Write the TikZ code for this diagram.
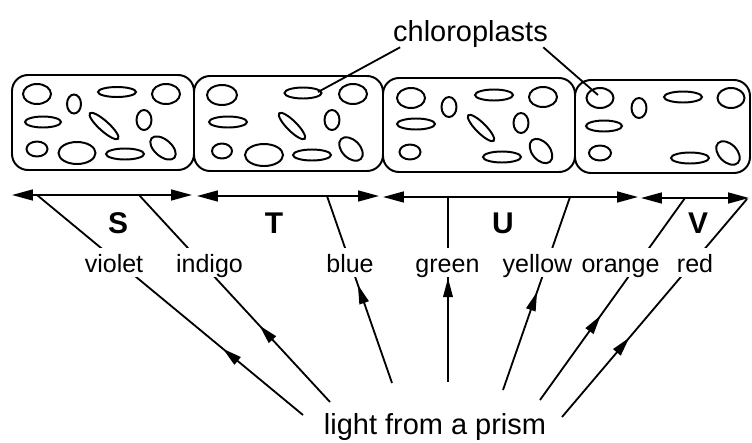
\documentclass[tikz,border=0pt]{standalone}
\usepackage{fontspec}
\setmainfont{Liberation Sans}
\usetikzlibrary{arrows.meta,decorations.markings}
\tikzset{>={Triangle[length=0.52cm,width=0.27cm]}}

\begin{document}
\begin{tikzpicture}[x=0.025cm,y=-0.025cm,
        cell/.style={line width=1.4pt,rounded corners=0.4cm},
        plast/.style={line width=1.4pt},
        band/.style={<->,line width=1.3pt},
        ray/.style={line width=1.3pt,postaction={decorate},
            decoration={markings,mark=at position 2.6cm with {\arrow{Triangle[length=0.48cm,width=0.24cm]}}}},
        lbl/.style={fill=white,anchor=base,inner xsep=1pt,inner ysep=0pt,
            text height=17pt,text depth=3.8pt,font=\fontsize{17.8}{20}\selectfont},
        big/.style={anchor=base,inner sep=0pt,font=\fontsize{20.6}{24}\selectfont},
        letter/.style={anchor=base,font=\fontsize{21.3}{24}\selectfont\bfseries}]
        \useasboundingbox (0,0) rectangle (752,442);

        % the four cells
        \draw[cell] (12,75) rectangle (194,170);
        \draw[cell] (194,76) rectangle (383,171);
        \draw[cell] (383,78) rectangle (575,172);
        \draw[cell] (575,80) rectangle (750,173);

        % chloroplasts: x/y/x radius/y radius/angle
        \foreach \x/\y/\a/\b/\r in {37/94/14/10/0, 74/104/7/9.5/0, 117/92/19/5/0, 166/94/14/10/0,
                43/122/18/5.5/0, 104/126/19/5/-42, 144/120/7.5/10/0, 37/149/10.5/7.5/0,
                77/153/18.5/11/0, 125/154/19/5.5/0, 163/148/15/8.5/-40,
                222/95/15/10/0, 303/93/18.5/5.5/0, 353/94/14/10/0, 228/122/19/5.5/0,
                292/126/18/5/-45, 332/120/7.5/10/0, 222/151/10/7.5/0, 264/155/19/11/0,
                312/155/19/5.5/0, 351/149/14/9/-45,
                411/98/14/10/0, 449/107/7.5/10/0, 494/95/19/5.5/0, 543/97/14/10/0,
                416/124/19/5.5/0, 481/128/18/5/-45, 521/123/7.5/10/0, 410/152/10.5/7.5/0,
                502/157/19/5.5/0, 541/151/14/9/-50,
                600/98/13.5/10/0, 639/108/7.5/10/0, 683/97/19/5.5/0, 731/98/13.5/10/0,
                604/126/18/5.5/0, 600/153/11/7.5/0, 690/158/19/5.5/0, 728/153/14/9/-45}
            \draw[plast,rotate around={\r:(\x,\y)}] (\x,\y) ellipse [x radius=\a, y radius=\b];

        \node[big] (chloro) at (470.5,41) {chloroplasts};
        \coordinate (plast-t) at (318,92);
        \coordinate (plast-v) at (598,95);
        \draw[line width=1.3pt] ([xshift=0.18cm]chloro.south west) -- (plast-t);
        \draw[line width=1.3pt] ([xshift=-0.12cm]chloro.south east) -- (plast-v);

        % bands S T U V
        \coordinate (s0) at (12,195);  \coordinate (s1) at (192,195);
        \coordinate (t0) at (197,196); \coordinate (t1) at (379,196);
        \coordinate (u0) at (383,197); \coordinate (u1) at (638,197);
        \coordinate (v0) at (641,198); \coordinate (v1) at (749,198);
        \draw[band] (s0) -- (s1);
        \draw[band] (t0) -- (t1);
        \draw[band] (u0) -- (u1);
        \draw[band] (v0) -- (v1);
        \node[letter] (S) at (118,233.5) {S};
        \node[letter] (T) at (274,233.5) {T};
        \node[letter] (U) at (503,233.5) {U};
        \node[letter] (V) at (698,233.5) {V};

        % light rays
        \node[big] (prism) at (435,434) {light from a prism};
        \coordinate (src-violet) at (303,415);  \coordinate (hit-violet) at (37,195);
        \coordinate (src-indigo) at (330,402);  \coordinate (hit-indigo) at (139,195);
        \coordinate (src-blue) at (392,383);    \coordinate (hit-blue) at (327,196);
        \coordinate (src-green) at (448,382);   \coordinate (hit-green) at (448,196);
        \coordinate (src-yellow) at (503,390);  \coordinate (hit-yellow) at (570,197);
        \coordinate (src-orange) at (540,400);  \coordinate (hit-orange) at (685,198);
        \coordinate (src-red) at (562,417);     \coordinate (hit-red) at (747,199);
        \foreach \c in {violet,indigo,blue,green,yellow,orange,red}
            \draw[ray] (src-\c) -- (hit-\c);

        \node[lbl] (lbl-violet) at (114,272) {violet};
        \node[lbl] (lbl-indigo) at (209.5,272) {indigo};
        \node[lbl] (lbl-blue) at (350,272) {blue};
        \node[lbl] (lbl-green) at (447.5,272) {green};
        \node[lbl] (lbl-yellow) at (537.5,272) {yellow};
        \node[lbl] (lbl-orange) at (620.5,272) {orange};
        \node[lbl] (lbl-red) at (695,272) {red};
    \end{tikzpicture}
\end{document}
